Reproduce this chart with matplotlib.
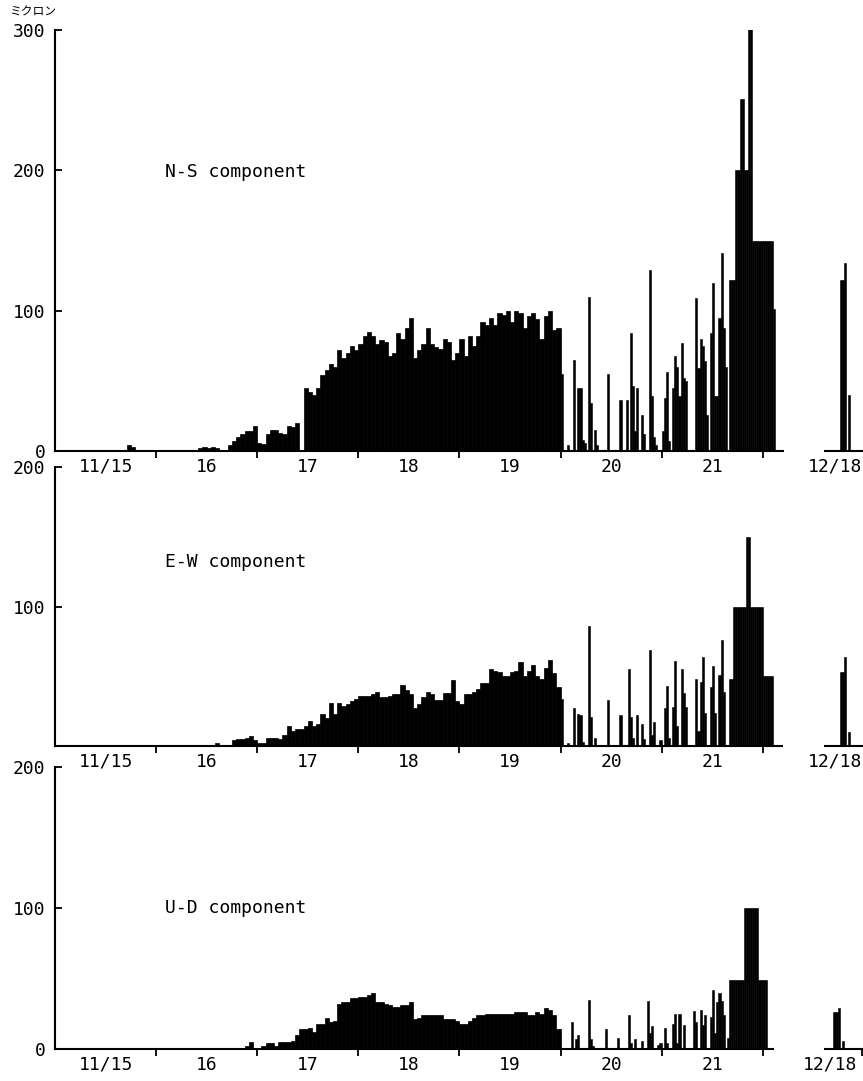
import matplotlib
matplotlib.use("Agg")
import matplotlib.pyplot as plt
import numpy as np

W, H, DPI = 863, 1081, 100

# ---------------- data ----------------
day_labels = ["11/15", "16", "17", "18", "19", "20", "21"]
dec_label = "12/18"
titles = ["N-S component", "E-W component", "U-D component"]
unit_label = "ミクロン"

# hourly values (micron), 11/15 00h .. 11/19 24h, one row per day
ns_hourly = [
    [0, 0, 0, 0, 0, 0, 0, 0, 0, 0, 0, 0, 0, 0, 0, 0, 0, 4, 3, 0, 0, 0, 0, 0],
    [0, 0, 0, 0, 0, 0, 0, 0, 0, 1, 2, 3, 2, 3, 2, 0, 0, 4, 7, 10, 12, 14, 14, 18],
    [6, 5, 12, 15, 15, 13, 12, 18, 17, 20, 0, 45, 42, 40, 45, 54, 58, 62, 60, 72, 66, 70, 75, 72],
    [76, 82, 85, 82, 76, 79, 78, 68, 70, 84, 80, 88, 95, 66, 72, 76, 88, 76, 74, 73, 80, 78, 65, 70],
    [80, 68, 82, 75, 82, 92, 90, 95, 90, 98, 97, 100, 92, 100, 98, 88, 96, 98, 94, 80, 96, 100, 86, 88],
]
ew_hourly = [
    [0, 0, 0, 0, 0, 0, 0, 0, 0, 0, 0, 0, 0, 0, 0, 0, 0, 1, 0, 0, 0, 0, 0, 0],
    [0, 0, 0, 0, 0, 0, 0, 0, 0, 0, 0, 0, 0, 0, 2, 0, 0, 0, 4, 5, 5, 6, 7, 4],
    [2, 2, 6, 6, 6, 5, 8, 14, 11, 12, 12, 14, 18, 14, 16, 23, 20, 31, 23, 31, 29, 30, 32, 34],
    [36, 36, 36, 37, 39, 35, 35, 36, 37, 37, 44, 40, 37, 27, 30, 35, 39, 37, 33, 33, 38, 38, 47, 32],
    [30, 37, 37, 39, 41, 45, 45, 55, 54, 53, 50, 50, 53, 54, 60, 50, 54, 58, 50, 48, 56, 62, 52, 42],
]
ud_hourly = [
    [0, 0, 0, 0, 0, 0, 0, 0, 0, 0, 0, 0, 0, 0, 0, 0, 0, 0, 0, 0, 0, 0, 0, 0],
    [0, 0, 0, 0, 0, 0, 0, 0, 0, 0, 0, 0, 0, 0, 0, 0, 0, 0, 0, 0, 0, 2, 5, 0],
    [0, 2, 4, 4, 2, 5, 5, 5, 6, 10, 14, 14, 15, 12, 18, 18, 22, 19, 20, 32, 33, 33, 36, 36],
    [37, 37, 38, 40, 33, 33, 32, 31, 30, 30, 31, 31, 33, 21, 22, 24, 24, 24, 24, 24, 21, 21, 21, 20],
    [18, 18, 20, 22, 24, 24, 25, 25, 25, 25, 25, 25, 25, 26, 26, 26, 24, 24, 26, 25, 29, 28, 24, 14],
]

# half-hourly values (micron), 11/20 00h .. 11/22 04h, rows of 12 hours
ns_late = [
    [55, 0, 0, 4, 0, 0, 65, 0, 45, 45, 8, 6, 0, 110, 34, 0, 15, 4, 0, 0, 0, 0, 55, 0],
    [0, 0, 0, 0, 36, 0, 0, 36, 0, 84, 46, 14, 45, 0, 26, 12, 0, 0, 129, 39, 10, 4, 0, 0],
    [14, 38, 56, 7, 0, 45, 68, 60, 39, 77, 52, 50, 0, 0, 0, 0, 109, 59, 80, 75, 64, 26, 0, 84],
    [120, 39, 39, 95, 141, 88, 60, 0, 122, 122, 122, 200, 200, 251, 251, 200, 200, 301, 301, 150, 150, 150, 150, 150],
    [150, 150, 150, 150, 150, 101, 0, 0],
]
ew_late = [
    [34, 0, 0, 2, 0, 0, 27, 0, 23, 22, 3, 0, 0, 86, 21, 0, 6, 1, 0, 0, 0, 0, 33, 0],
    [0, 0, 0, 0, 22, 0, 0, 0, 55, 21, 6, 0, 22, 0, 16, 5, 0, 0, 69, 8, 17, 0, 0, 4],
    [0, 27, 43, 6, 0, 28, 61, 14, 0, 55, 38, 28, 0, 0, 0, 0, 48, 11, 46, 64, 24, 0, 0, 42],
    [57, 24, 0, 51, 76, 39, 0, 0, 48, 48, 100, 100, 100, 100, 100, 100, 150, 150, 100, 100, 100, 100, 100, 100],
    [50, 50, 50, 50, 50, 0, 0, 0],
]
ud_late = [
    [0, 0, 0, 0, 0, 19, 0, 7, 10, 0, 0, 0, 0, 35, 7, 2, 0, 0, 0, 0, 0, 14, 0, 0],
    [0, 0, 0, 8, 0, 0, 0, 0, 24, 4, 0, 7, 0, 0, 6, 0, 0, 34, 11, 16, 0, 0, 3, 4],
    [0, 15, 4, 0, 0, 18, 25, 4, 25, 0, 17, 0, 0, 0, 0, 27, 19, 0, 28, 17, 24, 0, 0, 23],
    [42, 11, 33, 40, 34, 24, 0, 8, 49, 49, 49, 49, 49, 49, 49, 100, 100, 100, 100, 100, 100, 100, 49, 49],
    [49, 49, 0, 0, 0, 0, 0, 0],
]

# half-hourly values on 12/18 (short record shown at right)
ns_dec18 = [0, 0, 0, 0, 0, 122, 122, 134, 0, 40]
ew_dec18 = [0, 0, 0, 0, 0, 53, 53, 64, 0, 10]
ud_dec18 = [0, 0, 0, 0, 26, 26, 29, 0, 6, 0]

# ---------------- layout ----------------
MONO = "DejaVu Sans Mono"
plt.rcParams["font.family"] = [MONO, "DejaVu Sans"]

fig = plt.figure(figsize=(W / DPI, H / DPI), dpi=DPI)
fig.patch.set_facecolor("white")

PX_PER_HOUR = 4.2125
X0 = 55.0


def ax_px(left, top, right, bottom):
    return fig.add_axes([left / W, 1 - bottom / H, (right - left) / W, (bottom - top) / H])


panels = [
    dict(top=30, bottom=451, right=783, ymax=300, yt=[0, 100, 200, 300],
         hourly=ns_hourly, late=ns_late, dec=ns_dec18, title_y=172, lab_x=1.3),
    dict(top=467, bottom=746, right=782, ymax=200, yt=[100, 200],
         hourly=ew_hourly, late=ew_late, dec=ew_dec18, title_y=562, lab_x=1.3),
    dict(top=767, bottom=1049, right=773, ymax=200, yt=[0, 100, 200],
         hourly=ud_hourly, late=ud_late, dec=ud_dec18, title_y=908, lab_x=0.3),
]

LW = 1.5
for i, p in enumerate(panels):
    ax = ax_px(X0, p["top"], p["right"], p["bottom"])
    hourly = np.concatenate([np.asarray(r, float) for r in p["hourly"]])
    late = np.concatenate([np.asarray(r, float) for r in p["late"]])
    t1 = np.arange(len(hourly), dtype=float)
    t2 = len(hourly) + 0.5 * np.arange(len(late))
    ax.bar(t1, hourly, width=1.0, align="edge", color="black", edgecolor="black", linewidth=0.5)
    ax.bar(t2, late, width=0.5, align="edge", color="black", edgecolor="black", linewidth=0.4)
    ax.set_xlim(0, (p["right"] - X0) / PX_PER_HOUR)
    ax.set_ylim(0, p["ymax"])
    for s in ("top", "right"):
        ax.spines[s].set_visible(False)
    ax.spines["left"].set_linewidth(LW)
    ax.spines["bottom"].set_linewidth(LW)
    ax.set_xticks(np.arange(24, 24 * 7 + 1, 24))
    ax.set_xticklabels([])
    ax.set_xticks(np.arange(12, 24 * 7, 24), labels=day_labels, minor=True)
    ax.tick_params(axis="x", which="major", direction="out", length=5, width=1.3)
    ax.tick_params(axis="x", which="minor", length=0, pad=5, labelsize=13)
    ax.set_yticks(p["yt"])
    ax.set_yticklabels([str(v) for v in p["yt"]])
    ax.tick_params(axis="y", direction="in", length=5, width=1.3, pad=7, labelsize=13)
    ax.set_facecolor("none")

    # short record on 12/18 (broken axis)
    sx = 829 if i < 2 else 825
    sax = ax_px(825, p["top"], 825 + 13.0 * PX_PER_HOUR, p["bottom"])
    dec = np.asarray(p["dec"], float)
    td = 0.5 * np.arange(len(dec)) + (sx - 825) / PX_PER_HOUR
    sax.bar(td, dec, width=0.5, align="edge", color="black", edgecolor="black", linewidth=0.4)
    sax.set_xlim(0, 13.0)
    sax.set_ylim(0, p["ymax"])
    for s in ("top", "right", "left"):
        sax.spines[s].set_visible(False)
    sax.spines["bottom"].set_linewidth(LW)
    sax.set_yticks([])
    if i == 2:
        sax.set_xticks([8.75])
    else:
        sax.set_xticks([])
    sax.set_xticklabels([])
    sax.set_xticks([p["lab_x"] + 1.0], labels=[dec_label], minor=True)
    sax.tick_params(axis="x", which="major", direction="out", length=5, width=1.3)
    sax.tick_params(axis="x", which="minor", length=0, pad=5, labelsize=13)
    sax.set_facecolor("none")

    fig.text(165 / W, 1 - p["title_y"] / H, titles[i], ha="left", va="center", fontsize=13)

fig.text(9 / W, 1 - 12 / H, unit_label, ha="left", va="center", fontsize=8.5,
         family=["Noto Sans CJK JP", "DejaVu Sans"])

fig.savefig("out.png", dpi=DPI, facecolor="white")
